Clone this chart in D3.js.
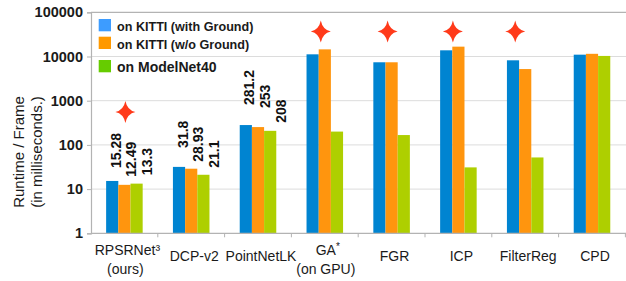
<!DOCTYPE html>
<html><head><meta charset="utf-8">
<script src="https://cdn.jsdelivr.net/npm/d3@7"></script>
<style>html,body{margin:0;padding:0;background:#fff;}svg{display:block;}</style>
</head><body>
<svg id="chart" width="626" height="281"></svg>
<script>
// ---- data ----
const categories = ["RPSRNet³", "DCP-v2", "PointNetLK", "GA", "FGR", "ICP", "FilterReg", "CPD"];
const subLabels  = ["(ours)", "", "", "(on GPU)", "", "", "", ""];
const seriesNames = ["on KITTI (with Ground)", "on KITTI (w/o Ground)", "on ModelNet40"];
const withGround = [15.28, 31.8, 281.2, 11200, 7400, 13800, 8200, 11000];
const woGround   = [12.49, 28.93, 253, 14500, 7400, 16700, 5200, 11500];
const modelNet40 = [13.3, 21.1, 208, 200, 167, 31, 52, 10300];
const valueLabels = [["15.28","12.49","13.3"], ["31.8","28.93","21.1"], ["281.2","253","208"]];
const yTicks = [1, 10, 100, 1000, 10000, 100000];
const starred = ["RPSRNet³", "GA", "FGR", "ICP", "FilterReg"];
const starLevel = [555, 36800, 36800, 36800, 36800];

// ---- layout ----
const L = 91, R = 625.4, T = 12.3, B = 233.3;
const barColors = ["#0084d1", "#ff950e", "#aecf00"];
const legendColors = ["#3d9cff", "#ff9900", "#66cc00"];
const svg = d3.select("#chart");
const series = [withGround, woGround, modelNet40];

const x0 = d3.scaleBand().domain(categories).range([L, R]).padding(0);
const gw = x0.bandwidth();
const x1 = d3.scaleBand().domain([0,1,2]).range([gw*0.2265, gw*0.7735]).padding(0);
const y = d3.scaleLog().domain([1, 100000]).range([B, T]);

// gridlines
svg.append("g").selectAll("line").data(yTicks.slice(1, -1)).join("line")
  .attr("x1", L).attr("x2", 626).attr("y1", d => y(d)).attr("y2", d => y(d))
  .attr("stroke", "#dcdcdc").attr("stroke-width", 1);

// frame lines
const frame = "#b3b3b3";
svg.append("line").attr("x1", L).attr("x2", 626).attr("y1", y(100000)).attr("y2", y(100000)).attr("stroke", frame).attr("stroke-width", 1.2);

// bars
const gBars = svg.append("g");
categories.forEach((c, ci) => {
  series.forEach((s, si) => {
    gBars.append("rect")
      .attr("x", x0(c) + x1(si)).attr("width", x1.bandwidth())
      .attr("y", y(s[ci])).attr("height", y(1) - y(s[ci]))
      .attr("fill", barColors[si]);
  });
});

// axes
const yAxis = d3.axisLeft(y).tickValues(yTicks).tickFormat(d3.format("d")).tickSize(4).tickPadding(4);
const gy = svg.append("g").attr("transform", `translate(${L},0)`).call(yAxis);
gy.select(".domain").attr("stroke", frame).attr("stroke-width", 1.2);
gy.selectAll(".tick line").attr("stroke", frame);
gy.selectAll(".tick text").attr("font-family", "Liberation Sans, Arial, sans-serif")
  .attr("font-weight", "bold").attr("font-size", "14.5px").attr("fill", "#1a1a1a");

// x axis baseline & ticks at group boundaries
svg.append("line").attr("x1", L).attr("x2", 626).attr("y1", B).attr("y2", B).attr("stroke", frame).attr("stroke-width", 1.2);
const bounds = categories.map(c => x0(c)).concat([R]);
svg.append("g").selectAll("line").data(bounds.slice(1)).join("line")
  .attr("x1", d => d).attr("x2", d => d).attr("y1", B).attr("y2", B + 4)
  .attr("stroke", frame);

// x labels
const gx = svg.append("g").attr("font-family", "Liberation Sans, Arial, sans-serif")
  .attr("font-size", "14px").attr("fill", "#1a1a1a").attr("text-anchor", "middle");
categories.forEach((c, ci) => {
  const cx = x0(c) + gw / 2 + 3;
  const two = subLabels[ci] !== "";
  const t = gx.append("text").attr("x", cx).attr("y", two ? 255 : 261);
  if (c === "GA") {
    t.append("tspan").text("GA");
    t.append("tspan").text("*").attr("font-size", "10px").attr("dy", -5);
  } else {
    t.text(c);
  }
  if (two) gx.append("text").attr("x", cx - 2).attr("y", 274).text(subLabels[ci]);
});

// value labels (rotated)
const labelLift = [[13, 8, 8.5], [19, 7, 7], [20, 19, 8]];
const gv = svg.append("g").attr("font-family", "Liberation Sans, Arial, sans-serif")
  .attr("font-weight", "bold").attr("font-size", "14px").attr("fill", "#111");
valueLabels.forEach((labs, ci) => {
  const c = categories[ci];
  labs.forEach((txt, si) => {
    const cxc = x0(c) + gw / 2 + 7 + (si - 1) * 15.7;
    const bx = cxc + 5;
    const by = y(series[si][ci]) - labelLift[ci][si];
    gv.append("text").attr("transform", `translate(${bx},${by}) rotate(-90)`).text(txt);
  });
});

// stars
const starDx = [1, -4, -4, -5.5, -10];
const starPath = "M0,-11 Q1.8,-1.8 10,0 Q1.8,1.8 0,11 Q-1.8,1.8 -10,0 Q-1.8,-1.8 0,-11Z";
svg.append("g").selectAll("path").data(starred).join("path")
  .attr("d", starPath)
  .attr("transform", (d, i) => `translate(${x0(d) + gw / 2 + starDx[i]},${y(starLevel[i])})`)
  .attr("fill", "#ff3a1a");

// legend
const lg = svg.append("g").attr("font-family", "Liberation Sans, Arial, sans-serif")
  .attr("font-weight", "bold").attr("fill", "#1a1a1a");
const rowsY = [19, 36.7, 60];
const rowsFont = [12.6, 12.6, 14];
seriesNames.forEach((n, i) => {
  lg.append("rect").attr("x", 98.7).attr("y", rowsY[i]).attr("width", 12.3).attr("height", 12.3).attr("fill", legendColors[i]);
  lg.append("text").attr("x", 117).attr("y", rowsY[i] + 12.3).attr("font-size", rowsFont[i] + "px").text(n);
});

// y title
const yt = svg.append("g").attr("font-family", "Liberation Sans, Arial, sans-serif")
  .attr("font-size", "15px").attr("fill", "#1a1a1a").attr("text-anchor", "middle");
yt.append("text").attr("transform", "translate(24,152) rotate(-90)").text("Runtime / Frame");
yt.append("text").attr("transform", "translate(42,152) rotate(-90)").text("(in milliseconds.)");
</script>
</body></html>
